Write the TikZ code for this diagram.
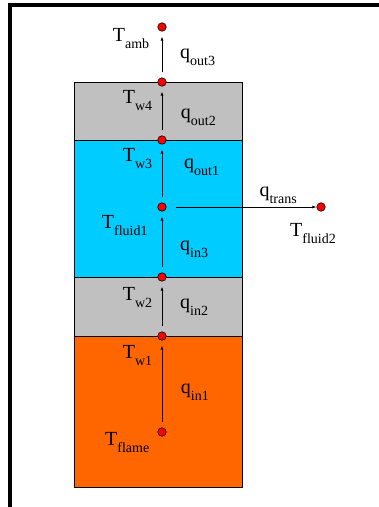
\documentclass[tikz,border=0pt]{standalone}
\usepackage{fontspec}
\setmainfont{Liberation Serif}
\usepackage{tikz}
\usetikzlibrary{arrows.meta}
\definecolor{wallgray}{HTML}{C0C0C0}
\definecolor{fluidcyan}{HTML}{00CCFF}
\definecolor{flameorange}{HTML}{FF6600}
\newcommand\tsub[2]{#1\raisebox{-7pt}{\fontsize{14}{14}\selectfont #2}}

\begin{document}
\begin{tikzpicture}[x=1pt,y=-1pt,
    dot/.style={circle,draw=black,fill=red,line width=0.6pt,inner sep=0pt,minimum size=8.5pt},
    flow/.style={-{Latex[length=4pt,width=3pt]},line width=0.8pt,shorten <=5pt,shorten >=5pt},
    lbl/.style={anchor=base west,inner sep=0pt,font=\fontsize{20}{24}\selectfont}]
    \useasboundingbox(0,0) rectangle (379,507);
    \fill(8.3,3) rectangle (379,7);
    \fill(8.3,3) rectangle (12.3,507);
    % layers
    \draw[fill=flameorange,line width=0.8pt](74,336) rectangle (242,487);
    \draw[fill=wallgray,line width=0.8pt](74,277) rectangle (242,336);
    \draw[fill=fluidcyan,line width=0.8pt](74,140) rectangle (242,277);
    \draw[fill=wallgray,line width=0.8pt](74,82) rectangle (242,140);
    % temperature points
    \foreach\n/\y in{tamb/27,tw4/82,tw3/140,tfluidA/207,tw2/277,tw1/336,tflame/432}{
        \node[dot] at(162,\y)(\n){};
    }
    \node[dot] at(321,207)(tfluidB){};
    % heat flows
    \foreach\a/\b in{tflame/tw1,tw1/tw2,tw2/tfluidA,tfluidA/tw3,tw3/tw4,tw4/tamb}{
        \draw[flow](\a) -- (\b);
    }
    \draw[flow,shorten <=9pt,shorten >=0pt](tfluidA) -- (tfluidB);
    % labels
    \foreach\x/\y/\t in{112.7/41/{\tsub{T}{amb}},122.7/103.3/{\tsub{T}{w4}},
        122.7/161/{\tsub{T}{w3}},101.7/228.3/{\tsub{T}{fluid1}},
        122.7/300/{\tsub{T}{w2}},122.7/358.3/{\tsub{T}{w1}},
        105/445/{\tsub{T}{flame}},290/236.7/{\tsub{T}{fluid2}},
        180/58/{\tsub{q}{out3}},180.7/118.3/{\tsub{q}{out2}},
        184/168.3/{\tsub{q}{out1}},180/250/{\tsub{q}{in3}},
        180/308.3/{\tsub{q}{in2}},180.7/393.3/{\tsub{q}{in1}},
        259.3/196.7/{\tsub{q}{trans}}}{
        \node[lbl] at(\x,\y){\t};
    }
\end{tikzpicture}
\end{document}
